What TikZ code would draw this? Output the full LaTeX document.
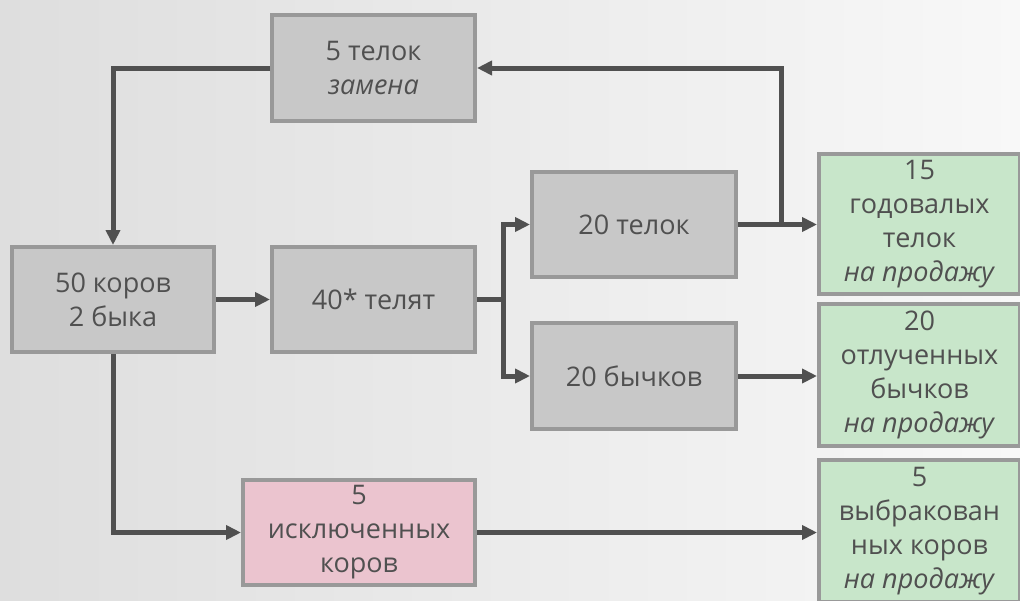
\documentclass[tikz,border=0pt]{standalone}
\usepackage{fontspec}
\setmainfont{Open Sans}
\usetikzlibrary{arrows.meta}
\definecolor{txt}{HTML}{505050}
\definecolor{lin}{HTML}{505050}
\definecolor{bord}{HTML}{999999}
\definecolor{boxgray}{HTML}{C8C8C8}
\definecolor{boxgreen}{HTML}{C8E6CA}
\definecolor{boxpink}{HTML}{EBC4CF}
\definecolor{bgl}{HTML}{DEDEDE}
\definecolor{bgr}{HTML}{F8F8F8}
\begin{document}
\begin{tikzpicture}[x=0.5pt,y=-0.5pt,
  box/.style={draw=bord, line width=2pt, fill=boxgray, align=center, text=txt,
    font=\fontsize{13.5}{17}\selectfont, inner sep=0pt},
  green/.style={box, fill=boxgreen},
  pink/.style={box, fill=boxpink},
  conn/.style={draw=lin, line width=2.5pt, -{Triangle[length=7.5pt,width=7pt]}}]
\shade[left color=bgl, right color=bgr] (0,0) rectangle (1020,600);
\useasboundingbox (0,0) rectangle (1020,600);

\node[box, minimum width=101.5pt, minimum height=53pt] (A) at (373.5,68) {5 телок\\\textit{замена}};
\node[box, minimum width=101pt, minimum height=52.5pt] (B) at (113,299.5) {50 коров\\2 быка};
\node[box, minimum width=101.5pt, minimum height=52.5pt] (C) at (373.5,299.5) {40* телят};
\node[box, minimum width=102pt, minimum height=52.5pt] (D) at (634,224.5) {20 телок};
\node[box, minimum width=102pt, minimum height=53pt] (E) at (634,376) {20 бычков};
\node[green, minimum width=100.5pt, minimum height=70pt] (F) at (919.5,224) {15\\годовалых\\телок\\\textit{на продажу}};
\node[green, minimum width=100.5pt, minimum height=71pt] (G) at (919.5,375) {20\\отлученных\\бычков\\\textit{на продажу}};
\node[green, minimum width=100.5pt, minimum height=71pt] (H) at (919.5,531) {5\\выбракован\\ных коров\\\textit{на продажу}};
\node[pink, minimum width=116pt, minimum height=52.5pt] (I) at (359,532.5) {5\\исключенных\\коров};

\coordinate (J) at (781,224.5);
\coordinate (K) at (503,299.5);

\draw[conn] (A.west) -| (B.north);
\draw[conn] (B.east) -- (C.west);
\draw[draw=lin, line width=2.5pt] (C.east) -- (K);
\draw[conn] (K) |- (D.west);
\draw[conn] (K) |- (E.west);
\draw[conn] (D.east) -- (F.west |- D.east);
\draw[conn] (J) |- (A.east);
\draw[conn] (E.east) -- (G.west |- E.east);
\draw[conn] (B.south) |- (I.west);
\draw[conn] (I.east) -- (H.west |- I.east);
\end{tikzpicture}
\end{document}
